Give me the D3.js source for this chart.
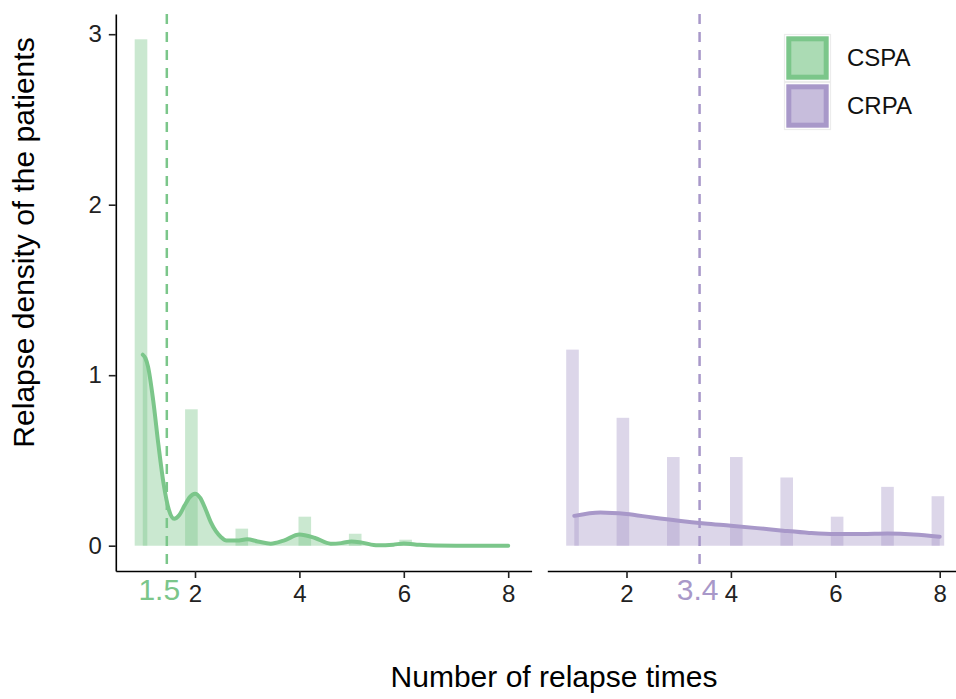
<!DOCTYPE html>
<meta charset="utf-8">
<script src="https://d3js.org/d3.v7.min.js"></script>
<style>
  body { margin: 0; background: #fff; }
  text { font-family: "Liberation Sans", Arial, Helvetica, sans-serif; }
</style>
<div id="chart"></div>

<script>

// relapse times on the x axis
var times = [1, 2, 3, 4, 5, 6, 7, 8];

// histogram densities per relapse time
var cspaHist = [2.97, 0.80, 0.10, 0.17, 0.07, 0.035, 0, 0];
var crpaHist = [1.15, 0.75, 0.52, 0.52, 0.40, 0.17, 0.345, 0.29];

// smoothed density curves
var cspaCurveX = [1, 1.05, 1.1, 1.2, 1.3, 1.4, 1.5, 1.6, 1.7, 1.8, 1.9, 2.0, 2.1, 2.2, 2.3, 2.4, 2.5, 2.6, 2.8, 3.0, 3.2, 3.45, 3.7, 4.0, 4.3, 4.6, 4.8, 5.0, 5.2, 5.5, 5.8, 6.0, 6.3, 6.6, 7.0, 8.0];
var cspaCurveY = [1.12, 1.10, 1.05, 0.85, 0.59, 0.36, 0.21, 0.158, 0.18, 0.235, 0.285, 0.305, 0.28, 0.215, 0.14, 0.085, 0.05, 0.03, 0.03, 0.037, 0.025, 0.012, 0.03, 0.065, 0.045, 0.012, 0.015, 0.025, 0.018, 0.002, 0.006, 0.013, 0.005, 0.001, 0, 0];
var crpaCurveX = [1, 1.5, 2, 2.5, 3, 3.5, 4, 4.5, 5, 5.5, 6, 6.5, 7, 7.5, 8];
var crpaCurveY = [0.175, 0.195, 0.186, 0.165, 0.146, 0.13, 0.117, 0.103, 0.088, 0.075, 0.068, 0.068, 0.071, 0.066, 0.052];

// group means (dashed lines) and their labels
var groups = ["CSPA", "CRPA"];
var means = [1.46, 3.40];
var meanLabels = ["1.5", "3.4"];

var xTicks = [2, 4, 6, 8];
var yTicks = [0, 1, 2, 3];

var colors = ["#7bc68a", "#a898c9"];

var W = 956, H = 699;
var panelTop = 14, panelBottom = 571;
var panelW = 415.8;
var panelLeft = [115.8, 547.3];

var svg = d3.select("#chart")
  .append("svg")
    .attr("width", W)
    .attr("height", H);

// ggplot-style bins: 30 bins over the data range
var lo = d3.min(times), hi = d3.max(times);
var bw = (hi - lo) / 29;
var origin = bw / 2 + Math.floor((lo - bw / 2) / bw) * bw;
function binOf(v) {
  var k = Math.floor((v - origin) / bw);
  return [origin + k * bw, origin + (k + 1) * bw];
}

var xDomain = [origin - 0.05 * (bw * 30), origin + bw * 30 + 0.05 * (bw * 30)];
// expansion based on the bar extent (first bin start to last bin end)
var barLo = binOf(lo)[0], barHi = binOf(hi)[1];
var ex = (barHi - barLo) * 0.05;
xDomain = [barLo - ex, barHi + ex];

var y = d3.scaleLinear()
  .domain([-0.1485, 3.1185])
  .range([panelBottom, panelTop]);

var panels = [
  {hist: cspaHist, cx: cspaCurveX, cy: cspaCurveY, dx: -7.5},
  {hist: crpaHist, cx: crpaCurveX, cy: crpaCurveY, dx: -2}
];

panels.forEach(function(p, i) {
  var x = d3.scaleLinear()
    .domain(xDomain)
    .range([panelLeft[i], panelLeft[i] + panelW]);
  var col = colors[i];
  var g = svg.append("g");

  // histogram
  g.selectAll("rect.bar")
    .data(times.map(function(t, j) { return {t: t, v: p.hist[j]}; }).filter(function(d) { return d.v > 0; }))
    .enter()
    .append("rect")
      .attr("class", "bar")
      .attr("x", function(d) { return x(binOf(d.t)[0]); })
      .attr("width", function(d) { return x(binOf(d.t)[1]) - x(binOf(d.t)[0]); })
      .attr("y", function(d) { return y(d.v); })
      .attr("height", function(d) { return y(0) - y(d.v); })
      .attr("fill", col)
      .attr("fill-opacity", 0.4);

  var pts = p.cx.map(function(v, j) { return [v, p.cy[j]]; });

  g.append("path")
    .datum(pts)
    .attr("fill", col)
    .attr("fill-opacity", 0.4)
    .attr("d", d3.area()
      .x(function(d) { return x(d[0]); })
      .y0(y(0))
      .y1(function(d) { return y(d[1]); })
      .curve(d3.curveMonotoneX));

  g.append("path")
    .datum(pts)
    .attr("fill", "none")
    .attr("stroke", col)
    .attr("stroke-width", 4)
    .attr("stroke-linecap", "round")
    .attr("d", d3.line()
      .x(function(d) { return x(d[0]); })
      .y(function(d) { return y(d[1]); })
      .curve(d3.curveMonotoneX));

  // mean line
  g.append("line")
    .attr("x1", x(means[i])).attr("x2", x(means[i]))
    .attr("y1", panelTop).attr("y2", panelBottom)
    .attr("stroke", col)
    .attr("stroke-width", 2.5)
    .attr("stroke-dasharray", "10,8");

  // x axis
  var ax = svg.append("g")
    .attr("transform", "translate(0," + panelBottom + ")")
    .call(d3.axisBottom(x).tickValues(xTicks).tickFormat(d3.format("d"))
      .tickSize(7).tickSizeOuter(0).tickPadding(7));
  ax.select(".domain").attr("stroke", "#000").attr("stroke-width", 1.6);
  ax.selectAll(".tick line").attr("stroke", "#222").attr("stroke-width", 1.6);
  ax.selectAll(".tick text")
    .attr("fill", "#222")
    .style("font-size", "24px")
    .style("font-family", "'Liberation Sans', Arial, sans-serif");

  // mean label under the axis
  svg.append("text")
    .attr("x", x(means[i]) + p.dx)
    .attr("y", 600)
    .attr("text-anchor", "middle")
    .attr("fill", col)
    .style("font-size", "30px")
    .text(meanLabels[i]);
});

// y axis (left panel only)
var ay = svg.append("g")
  .attr("transform", "translate(" + panelLeft[0] + ",0)")
  .call(d3.axisLeft(y).tickValues(yTicks).tickFormat(d3.format("d"))
    .tickSize(7).tickSizeOuter(0).tickPadding(7));
ay.select(".domain").attr("stroke", "#000").attr("stroke-width", 1.6);
ay.selectAll(".tick line").attr("stroke", "#222").attr("stroke-width", 1.6);
ay.selectAll(".tick text")
  .attr("fill", "#222")
  .style("font-size", "24px")
  .style("font-family", "'Liberation Sans', Arial, sans-serif");

// axis titles
svg.append("text")
  .attr("x", 554)
  .attr("y", 687)
  .attr("text-anchor", "middle")
  .attr("fill", "#000")
  .style("font-size", "30px")
  .text("Number of relapse times");

svg.append("text")
  .attr("transform", "translate(33.5,242.5) rotate(-90)")
  .attr("text-anchor", "middle")
  .attr("fill", "#000")
  .style("font-size", "30px")
  .text("Relapse density of the patients");

// legend
var leg = svg.append("g").attr("transform", "translate(785,35)");
groups.forEach(function(name, i) {
  var k = leg.append("g").attr("transform", "translate(0," + (i * 48) + ")");
  k.append("rect")
    .attr("x", -0.5).attr("y", -0.5)
    .attr("width", 46).attr("height", 47)
    .attr("fill", "#fff")
    .attr("stroke", "#ececec")
    .attr("stroke-width", 1.2);
  k.append("rect")
    .attr("x", 3.8).attr("y", 3.8)
    .attr("width", 37.4).attr("height", 38.4)
    .attr("fill", colors[i])
    .attr("fill-opacity", 0.64)
    .attr("stroke", colors[i])
    .attr("stroke-width", 5);
  k.append("text")
    .attr("x", 62)
    .attr("y", 23)
    .attr("dy", "0.35em")
    .attr("fill", "#111")
    .style("font-size", "24px")
    .text(name);
});

</script>
